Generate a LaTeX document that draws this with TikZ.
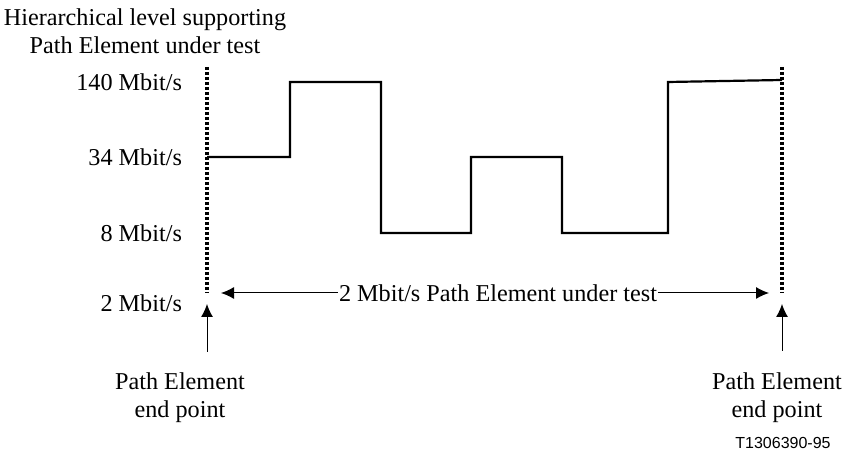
\documentclass[tikz,border=0pt]{standalone}
\usepackage{fontspec}
\setmainfont{Liberation Serif}
\newfontfamily\codefont{Liberation Sans}
\usetikzlibrary{arrows.meta}

\begin{document}
\begin{tikzpicture}[x=0.5pt,y=-0.5pt,font=\fontsize{12.1}{14}\selectfont]
% Place nodes
\useasboundingbox (0,0) rectangle (846,459);

\node[align=center] (title) at (145,31) {Hierarchical level supporting\\Path Element under test};

\node[anchor=east] (l140) at (189,82) {140 Mbit/s};
\node[anchor=east] (l34) at (189,157) {34 Mbit/s};
\node[anchor=east] (l8) at (189,233) {8 Mbit/s};
\node[anchor=east] (l2) at (189,303) {2 Mbit/s};

% end point markers
\draw[line width=1.7pt,dash pattern=on 1.4pt off 1.1pt] (207,67) -- (207,293);
\draw[line width=1.7pt,dash pattern=on 1.4pt off 1.1pt] (782,67) -- (782,293);

% level path
\draw[line width=1.1pt] (207,157) -- (290,157) -- (290,82) -- (381,82) -- (381,233)
  -- (471,233) -- (471,157) -- (562,157) -- (562,233) -- (668,233) -- (668,82) -- (782,80);

% path element under test
\node[inner sep=0.5pt] (pe) at (498,293) {2 Mbit/s Path Element under test};
\coordinate (peleft) at (221,293);
\coordinate (peright) at (769,293);
\draw[line width=0.5pt,-{Latex[length=6.5pt,width=6pt]}] (pe.west) -- (peleft);
\draw[line width=0.5pt,-{Latex[length=6.5pt,width=6pt]}] (pe.east) -- (peright);

% end points
\node[align=center,anchor=north] (epleft) at (180,366) {Path Element\\end point};
\node[align=center,anchor=north] (epright) at (777,366) {Path Element\\end point};
\coordinate (tipleft) at (207,304);
\coordinate (tipright) at (782,304);
\draw[line width=0.5pt,-{Latex[length=6.5pt,width=6pt]}] (207,352) -- (tipleft);
\draw[line width=0.5pt,-{Latex[length=6.5pt,width=6pt]}] (782,351) -- (tipright);

\node[font=\codefont\fontsize{8}{10}\selectfont] (code) at (783,443) {T1306390-95};

\end{tikzpicture}
\end{document}
